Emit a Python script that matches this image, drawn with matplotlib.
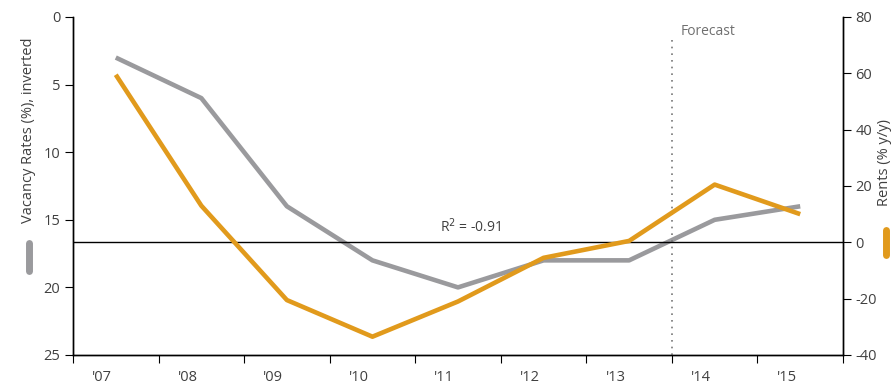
import numpy as np
import matplotlib.pyplot as plt
from matplotlib.lines import Line2D

# dati
years = ["'07", "'08", "'09", "'10", "'11", "'12", "'13", "'14", "'15"]
vacancy = [3.0, 6.0, 14.0, 18.0, 20.0, 18.0, 18.0, 15.0, 14.0]      # asse sinistro, invertito
rents = [59.5, 13.0, -20.5, -33.5, -21.0, -5.5, 0.5, 20.5, 10.0]    # asse destro, % y/y

GRAY = '#9a9a9d'
ORANGE = '#e19a1c'
TXT = '#404040'

plt.rcParams['font.family'] = ['Open Sans', 'DejaVu Sans']
plt.rcParams['axes.unicode_minus'] = False

fig = plt.figure(figsize=(8.93, 3.91), dpi=100)
ax = fig.add_axes([73 / 893, 36 / 391, 770 / 893, 338 / 391])
ax2 = ax.twinx()

x = np.arange(len(years))
ax.plot(x, vacancy, color=GRAY, lw=3.3, solid_capstyle='butt', zorder=3)
ax2.plot(x, rents, color=ORANGE, lw=3.3, solid_capstyle='butt', zorder=3)

ax.set_xlim(-0.5, len(years) - 0.5)
ax.set_ylim(25, 0)
ax2.set_ylim(-40, 80)
ax.set_yticks([0, 5, 10, 15, 20, 25])
ax2.set_yticks([-40, -20, 0, 20, 40, 60, 80])

# tacche ai bordi delle categorie, etichette al centro
ax.set_xticks(np.arange(-0.5, len(years), 1.0))
ax.set_xticklabels([])
ax.set_xticks(x - 0.16, minor=True)
ax.set_xticklabels(years, minor=True)
ax.tick_params(axis='x', which='major', length=6, direction='out', color='black')
ax.tick_params(axis='x', which='minor', length=0, pad=11, labelcolor=TXT, labelsize=10.5)
ax.tick_params(axis='y', length=6, direction='out', labelcolor=TXT, labelsize=10.5, pad=3)
ax2.tick_params(axis='y', length=6, direction='out', labelcolor=TXT, labelsize=10.5, pad=3)

for a in (ax, ax2):
    a.spines['top'].set_visible(False)
    for s in ('left', 'right', 'bottom'):
        a.spines[s].set_color('black')
        a.spines[s].set_linewidth(1)
ax.patch.set_visible(False)

# linea dello zero sui canoni
ax2.axhline(0, color='black', lw=1, zorder=2)

# linea previsione
ax2.plot([6.5, 6.5], [-40, 73], ls=(0, (1, 3)), color='#777777', lw=1.2, zorder=1)
ax2.text(6.6, 75, 'Forecast', color='#707070', fontsize=10, va='center', ha='left')

ax2.text(4.15, 5.5, 'R$^2$ = -0.91', color=TXT, fontsize=10, ha='center', va='center')

# etichette assi con simbolo della serie
fig.text(29 / 893, 1 - 130 / 391, 'Vacancy Rates (%), inverted', rotation=90,
         ha='center', va='center', color=TXT, fontsize=10.5)
fig.add_artist(Line2D([29 / 893, 29 / 893], [1 - 243 / 391, 1 - 271 / 391],
                      transform=fig.transFigure, color=GRAY, lw=5, solid_capstyle='round'))
fig.text(884 / 893, 1 - 162 / 391, 'Rents (% y/y)', rotation=90,
         ha='center', va='center', color=TXT, fontsize=10.5)
fig.add_artist(Line2D([886 / 893, 886 / 893], [1 - 230 / 391, 1 - 255 / 391],
                      transform=fig.transFigure, color=ORANGE, lw=5, solid_capstyle='round'))

fig.savefig('out.png', dpi=100)
